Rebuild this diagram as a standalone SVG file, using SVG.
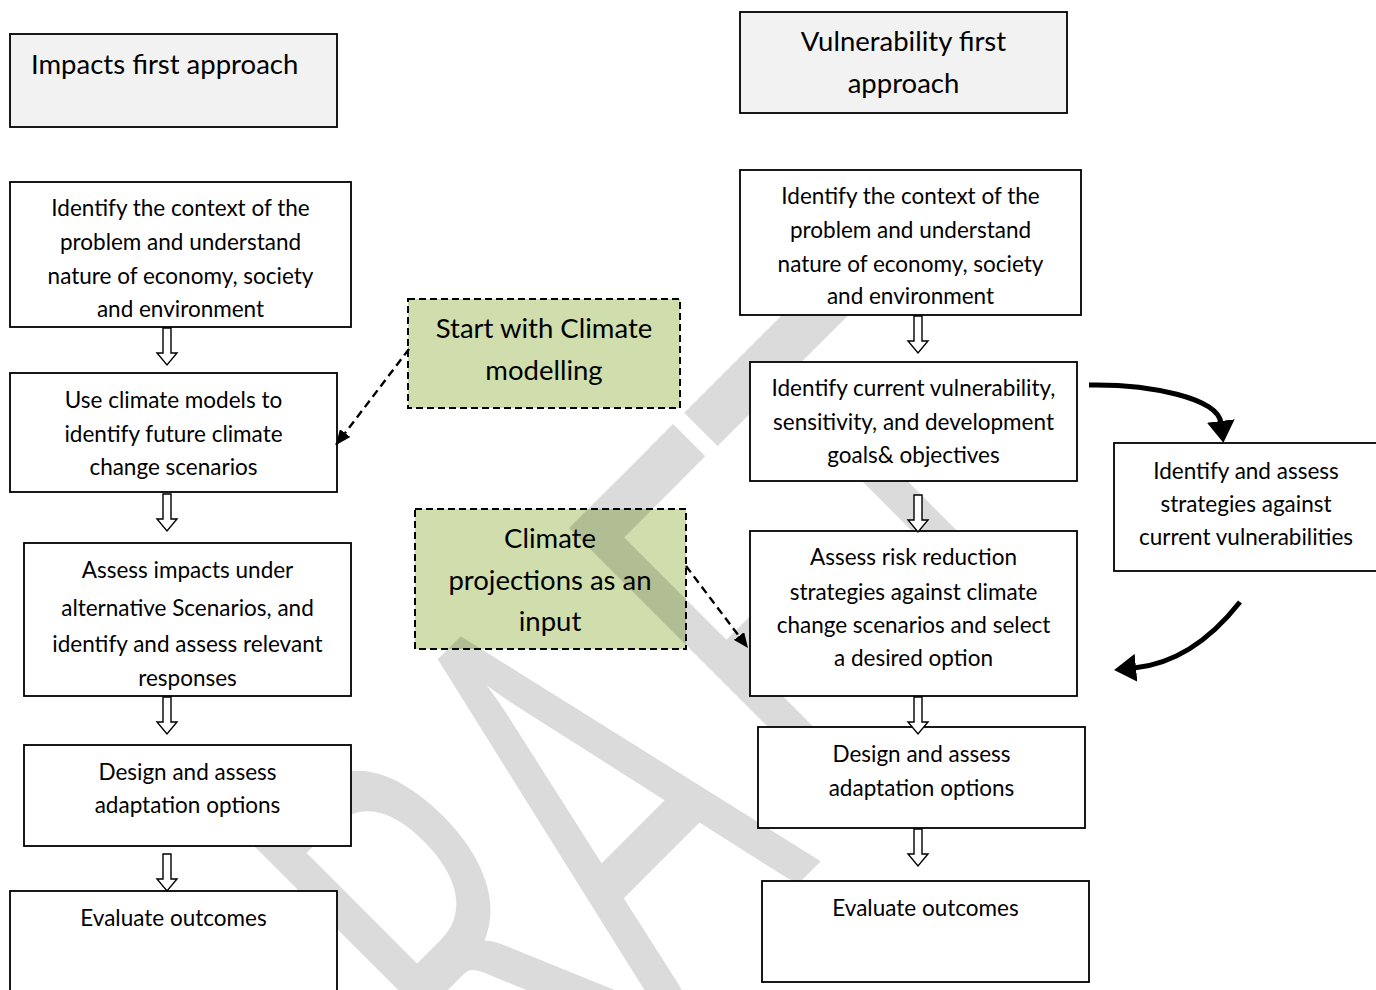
<svg xmlns="http://www.w3.org/2000/svg" width="1376" height="990" viewBox="0 0 1376 990">
<style>
.box{fill:#fff;stroke:#000;stroke-width:1.8}
.ttl{fill:#f2f2f2;stroke:#000;stroke-width:1.8}
.grn{fill:#cfdeac;stroke:#000;stroke-width:2;stroke-dasharray:7 4}
.t{font-family:Lato,"Liberation Sans",sans-serif;font-size:22.5px;fill:#000;text-anchor:middle}
.big{font-size:27.5px}
.ha{fill:#fff;stroke:#000;stroke-width:1.4}
.dash{fill:none;stroke:#000;stroke-width:2.4;stroke-dasharray:8 5}
.cur{fill:none;stroke:#000;stroke-width:5}
</style>
<defs>
<marker id="sm" markerUnits="userSpaceOnUse" markerWidth="15" markerHeight="13" refX="15" refY="6.5" orient="auto"><path d="M0,0 L15,6.5 L0,13 z" fill="#000"/></marker>
<marker id="bg" markerUnits="userSpaceOnUse" markerWidth="22" markerHeight="28" refX="2" refY="14" orient="auto"><path d="M0,0 L22,14 L0,28 z" fill="#000"/></marker>
</defs>
<rect width="1376" height="990" fill="#fff"/>

<g id="n-start-climate">
<rect class="grn" x="408" y="299" width="272" height="109"/>
<text class="t big" x="544" y="338">Start with Climate</text>
<text class="t big" x="544" y="380">modelling</text>
</g>
<g id="n-climate-proj">
<rect class="grn" x="415" y="509" width="271" height="140"/>
<text class="t big" x="550" y="548">Climate</text>
<text class="t big" x="550" y="590">projections as an</text>
<text class="t big" x="550" y="631">input</text>
</g>

<g id="watermark" fill="#000" fill-opacity="0.14" font-family="Lato, 'Liberation Sans', sans-serif" font-size="370">
<text transform="translate(841,841) rotate(-45) scale(0.9,1.56)" x="-639 -383 -156 103 317" y="0" text-anchor="middle">DRAFT</text>
</g>

<g id="n-impacts-title">
<rect class="ttl" x="10" y="34" width="327" height="93"/>
<text class="t big" x="31" y="74" style="text-anchor:start">Impacts first approach</text>
</g>
<g id="n-l1">
<rect class="box" x="10" y="182" width="341" height="145"/>
<text class="t" x="180.5" y="216">Identify the context of the</text>
<text class="t" x="180.5" y="250">problem and understand</text>
<text class="t" x="180.5" y="284">nature of economy, society</text>
<text class="t" x="180.5" y="317">and environment</text>
</g>
<g id="n-l2">
<rect class="box" x="10" y="373" width="327" height="119"/>
<text class="t" x="173.5" y="408">Use climate models to</text>
<text class="t" x="173.5" y="442">identify future climate</text>
<text class="t" x="173.5" y="475">change scenarios</text>
</g>
<g id="n-l3">
<rect class="box" x="24" y="543" width="327" height="153"/>
<text class="t" x="187.5" y="578">Assess impacts under</text>
<text class="t" x="187.5" y="616">alternative Scenarios, and</text>
<text class="t" x="187.5" y="652">identify and assess relevant</text>
<text class="t" x="187.5" y="686">responses</text>
</g>
<g id="n-l4">
<rect class="box" x="24" y="745" width="327" height="101"/>
<text class="t" x="187.5" y="780">Design and assess</text>
<text class="t" x="187.5" y="813">adaptation options</text>
</g>
<g id="n-l5">
<rect class="box" x="10" y="891" width="327" height="110"/>
<text class="t" x="173.5" y="926">Evaluate outcomes</text>
</g>

<g id="n-vuln-title">
<rect class="ttl" x="740" y="12" width="327" height="101"/>
<text class="t big" x="903.5" y="51">Vulnerability first</text>
<text class="t big" x="903.5" y="93">approach</text>
</g>
<g id="n-r1">
<rect class="box" x="740" y="170" width="341" height="145"/>
<text class="t" x="910.5" y="204">Identify the context of the</text>
<text class="t" x="910.5" y="238">problem and understand</text>
<text class="t" x="910.5" y="272">nature of economy, society</text>
<text class="t" x="910.5" y="304">and environment</text>
</g>
<g id="n-r2">
<rect class="box" x="750" y="362" width="327" height="119"/>
<text class="t" x="913.5" y="396">Identify current vulnerability,</text>
<text class="t" x="913.5" y="430">sensitivity, and development</text>
<text class="t" x="913.5" y="463">goals&amp; objectives</text>
</g>
<g id="n-r3">
<rect class="box" x="750" y="531" width="327" height="165"/>
<text class="t" x="913.5" y="565">Assess risk reduction</text>
<text class="t" x="913.5" y="600">strategies against climate</text>
<text class="t" x="913.5" y="633">change scenarios and select</text>
<text class="t" x="913.5" y="666">a desired option</text>
</g>
<g id="n-r4">
<rect class="box" x="758" y="727" width="327" height="101"/>
<text class="t" x="921.5" y="762">Design and assess</text>
<text class="t" x="921.5" y="796">adaptation options</text>
</g>
<g id="n-r5">
<rect class="box" x="762" y="881" width="327" height="101"/>
<text class="t" x="925.5" y="916">Evaluate outcomes</text>
</g>
<g id="n-side">
<rect class="box" x="1114" y="443" width="266" height="128"/>
<text class="t" x="1246" y="479">Identify and assess</text>
<text class="t" x="1246" y="512">strategies against</text>
<text class="t" x="1246" y="545">current vulnerabilities</text>
</g>

<g id="connectors">
<path class="ha" d="M163,328 V353 H157 L167,365 L177,353 H171 V328 Z"/>
<path class="ha" d="M163,494 V519 H157 L167,531 L177,519 H171 V494 Z"/>
<path class="ha" d="M163,697 V722 H157 L167,734 L177,722 H171 V697 Z"/>
<path class="ha" d="M163,854 V879 H157 L167,891 L177,879 H171 V854 Z"/>
<path class="ha" d="M914,316 V341 H908 L918,353 L928,341 H922 V316 Z"/>
<path class="ha" d="M914,495 V520 H908 L918,532 L928,520 H922 V495 Z"/>
<path class="ha" d="M914,697 V722 H908 L918,734 L928,722 H922 V697 Z"/>
<path class="ha" d="M914,829 V854 H908 L918,866 L928,854 H922 V829 Z"/>
<line class="dash" x1="409" y1="349" x2="336" y2="445" marker-end="url(#sm)"/>
<line class="dash" x1="686" y1="566" x2="748" y2="648" marker-end="url(#sm)"/>
<path class="cur" d="M1089,385 C1150,384 1218,398 1221,423" marker-end="url(#bg)"/>
<path class="cur" d="M1240,602 C1210,640 1175,664 1134,668" marker-end="url(#bg)"/>
</g>
</svg>
